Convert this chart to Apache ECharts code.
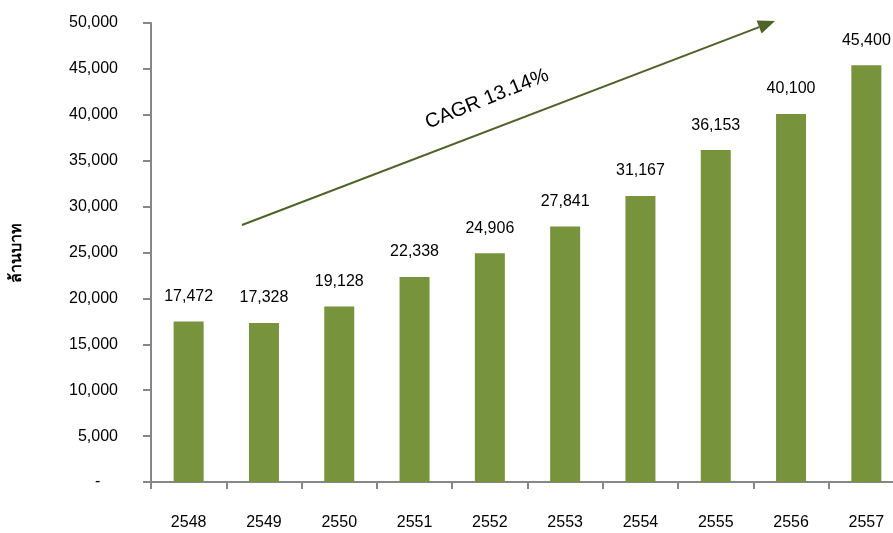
<!DOCTYPE html>
<html>
<head>
<meta charset="utf-8">
<script src="https://cdn.jsdelivr.net/npm/echarts@6/dist/echarts.min.js"></script>
<style>
  html, body { margin: 0; padding: 0; background: #fff; overflow: hidden; }
  #main { width: 904px; height: 533px; }
</style>
</head>
<body>
<div id="main"></div>
<script>
// ข้อมูล
var years = ['2548', '2549', '2550', '2551', '2552', '2553', '2554', '2555', '2556', '2557'];
var values = [17472, 17328, 19128, 22338, 24906, 27841, 31167, 36153, 40100, 45400];
var yTicks = [0, 5000, 10000, 15000, 20000, 25000, 30000, 35000, 40000, 45000, 50000];

var myChart = echarts.init(document.getElementById('main'));
var font = 'Arial, "Liberation Sans", sans-serif';

// ลูกศร CAGR
var x1 = 242, y1 = 225, x2 = 775, y2 = 21;
var ang = Math.atan2(y2 - y1, x2 - x1);
var hl = 17, hw = 7;
var bx = x2 - hl * Math.cos(ang), by = y2 - hl * Math.sin(ang);
var head = [
  [x2, y2],
  [bx + hw * Math.sin(ang), by - hw * Math.cos(ang)],
  [bx - hw * Math.sin(ang), by + hw * Math.cos(ang)]
];

myChart.setOption({
  backgroundColor: '#fff',
  animation: false,
  grid: {
    left: 151,
    right: 0,
    top: 23,
    bottom: 51
  },
  xAxis: {
    type: 'category',
    data: years,
    axisLine: { lineStyle: { color: '#868686', width: 2 } },
    axisTick: { show: true, length: 7, lineStyle: { color: '#868686', width: 2 } },
    axisLabel: { color: '#000', fontSize: 16, fontFamily: font, margin: 33 }
  },
  yAxis: {
    type: 'value',
    min: yTicks[0],
    max: yTicks[yTicks.length - 1],
    interval: yTicks[1] - yTicks[0],
    splitLine: { show: false },
    axisLine: { show: true, lineStyle: { color: '#868686', width: 2 } },
    axisTick: { show: true, length: 8, lineStyle: { color: '#868686', width: 2 } },
    axisLabel: {
      color: '#000', fontSize: 16, fontFamily: font, margin: 33,
      formatter: function (v) { return v === 0 ? '-    ' : v.toLocaleString('en-US'); }
    },
    name: 'ล้านบาท',
    nameLocation: 'middle',
    nameGap: 126,
    nameRotate: 90,
    nameTextStyle: { color: '#000', fontSize: 16, fontWeight: 'bold', fontFamily: font }
  },
  series: [{
    type: 'bar',
    data: values,
    barWidth: 30,
    itemStyle: { color: '#77933C' },
    label: {
      show: true,
      position: 'top',
      distance: 17,
      color: '#000',
      fontSize: 16,
      fontFamily: font,
      formatter: function (p) { return p.value.toLocaleString('en-US'); }
    }
  }],
  graphic: [
    {
      type: 'line',
      shape: { x1: x1, y1: y1, x2: bx, y2: by },
      style: { stroke: '#4F6228', lineWidth: 2 }
    },
    {
      type: 'polygon',
      shape: { points: head },
      style: { fill: '#4F6228' }
    },
    {
      type: 'text',
      x: 487,
      y: 99,
      rotation: 22 * Math.PI / 180,
      style: {
        text: 'CAGR 13.14%',
        fill: '#000',
        font: '20px Arial, "Liberation Sans", sans-serif',
        align: 'center',
        verticalAlign: 'middle'
      }
    }
  ]
});
</script>
</body>
</html>
